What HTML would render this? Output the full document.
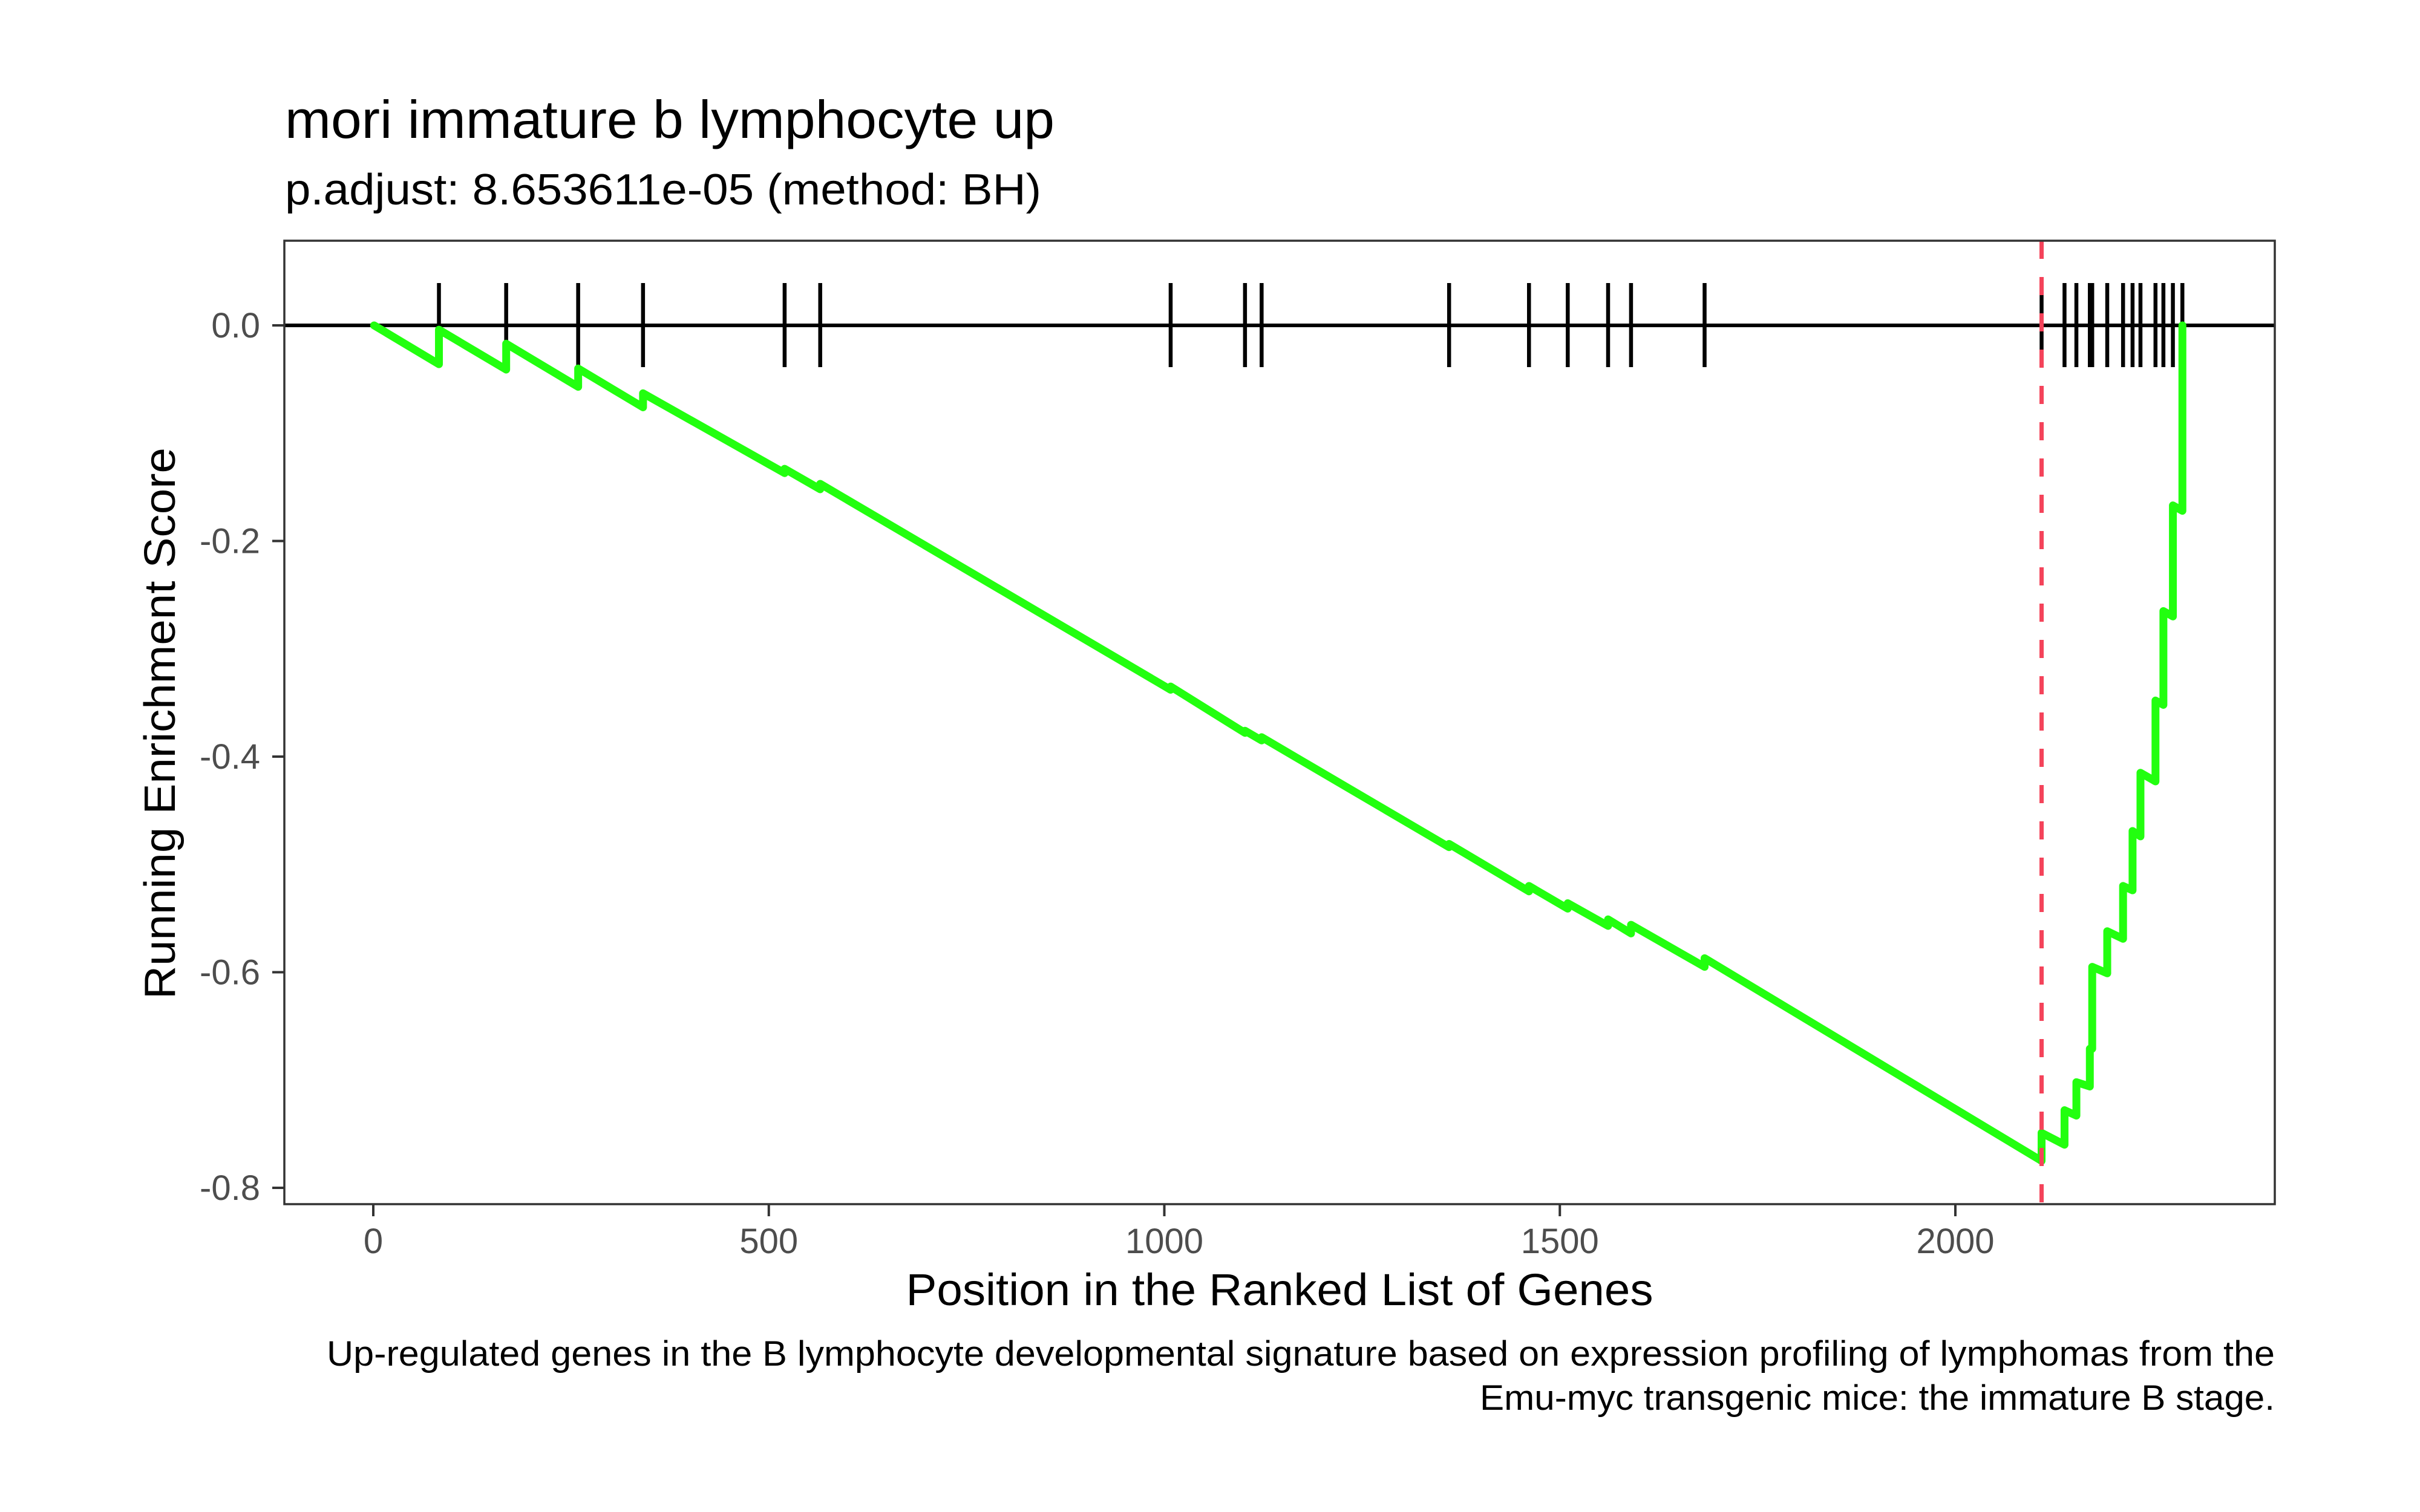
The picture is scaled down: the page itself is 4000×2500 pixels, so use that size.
<!DOCTYPE html>
<html><head><meta charset="utf-8"><style>
html,body{margin:0;padding:0;background:#fff;}
svg{display:block;font-family:"Liberation Sans",Arial,sans-serif;}
</style></head><body>
<svg id="chart" width="4000" height="2500" viewBox="0 0 4000 2500">
<rect x="0" y="0" width="4000" height="2500" fill="#fff"/>
<text x="471" y="228" font-size="88" fill="#000" textLength="1272" lengthAdjust="spacingAndGlyphs">mori immature b lymphocyte up</text>
<text x="471" y="338" font-size="72" fill="#000" textLength="1250" lengthAdjust="spacingAndGlyphs">p.adjust: 8.653611e-05 (method: BH)</text>
<g id="yaxis"></g>
<g id="xaxis"></g>
<g id="marks"></g>
<rect x="470" y="398" width="3290" height="1593" fill="none" stroke="#333" stroke-width="3.5"/>
<text x="265" y="1196" font-size="72" fill="#000" text-anchor="middle" transform="rotate(-90 265 1196)" dominant-baseline="central" textLength="912" lengthAdjust="spacingAndGlyphs">Running Enrichment Score</text>
<text x="2115" y="2158" font-size="74" fill="#000" text-anchor="middle" textLength="1235" lengthAdjust="spacingAndGlyphs">Position in the Ranked List of Genes</text>
<text x="3760" y="2258" font-size="58" fill="#000" text-anchor="end" textLength="3220" lengthAdjust="spacingAndGlyphs">Up-regulated genes in the B lymphocyte developmental signature based on expression profiling of lymphomas from the</text>
<text x="3760" y="2331" font-size="58" fill="#000" text-anchor="end" textLength="1314" lengthAdjust="spacingAndGlyphs">Emu-myc transgenic mice: the immature B stage.</text>
</svg>
<script>
const hitPositions = [83,168,259,341,520,565,1008,1102,1123,1360,1461,1510,1561,1590,1683,2109,2138,2153,2170,2173,2192,2212,2224,2234,2253,2263,2275,2287];
const esBefore = [-0.036,-0.041,-0.057,-0.076,-0.137,-0.152,-0.338,-0.378,-0.385,-0.484,-0.525,-0.541,-0.557,-0.564,-0.595,-0.775,-0.760,-0.733,-0.706,-0.671,-0.601,-0.569,-0.524,-0.474,-0.423,-0.352,-0.270,-0.172];
const esAfter  = [-0.004,-0.017,-0.040,-0.063,-0.133,-0.147,-0.335,-0.376,-0.382,-0.481,-0.520,-0.536,-0.551,-0.556,-0.587,-0.749,-0.728,-0.702,-0.671,-0.595,-0.562,-0.520,-0.469,-0.415,-0.348,-0.265,-0.167,0.0];
const startGene = [1];
const startES = [0.0];
const peakGene = [2109];
const xTicks = [0,500,1000,1500,2000];
const xTickLabels = ["0","500","1000","1500","2000"];
const yTicks = [0,-0.2,-0.4,-0.6,-0.8];
const yTickLabels = ["0.0","-0.2","-0.4","-0.6","-0.8"];

const NS="http://www.w3.org/2000/svg";
function xs(g){return 617+(g)*1.3075;}
function ys(v){return 538+(-v)*1782.5;}
function mk(tag,attrs,parent){const e=document.createElementNS(NS,tag);for(const k in attrs)e.setAttribute(k,attrs[k]);parent.appendChild(e);return e;}
const yaxis=document.getElementById('yaxis'),xaxis=document.getElementById('xaxis'),marks=document.getElementById('marks');

yTicks.forEach((v,i)=>{
  const t=mk('line',{x1:450,x2:470,y1:ys(v),y2:ys(v),stroke:'#333','stroke-width':4},yaxis);
  
  
  const l=mk('text',{x:430,y:ys(v)+20,'font-size':58,fill:'#4d4d4d','text-anchor':'end'},yaxis);
  l.textContent=yTickLabels[i];
  
  
});
xTicks.forEach((g,i)=>{
  const t=mk('line',{x1:xs(g),x2:xs(g),y1:1991,y2:2011,stroke:'#333','stroke-width':4},xaxis);
  
  
  const l=mk('text',{x:xs(g),y:2072,'font-size':58,fill:'#4d4d4d','text-anchor':'middle'},xaxis);
  l.textContent=xTickLabels[i];
  
  
});

const z=mk('line',{x1:470,x2:3760,y1:ys(0),y2:ys(0),stroke:'#000','stroke-width':6},marks);



hitPositions.forEach(g=>{
  const r=mk('line',{x1:xs(g),x2:xs(g),y1:468,y2:607,stroke:'#000','stroke-width':6.5},marks);
  
  
});

let d='M'+xs(startGene[0])+' '+ys(startES[0]);
hitPositions.forEach((g,i)=>{
  d+=' L'+xs(g)+' '+ys(esBefore[i])+' L'+xs(g)+' '+ys(esAfter[i]);
});
const p=mk('path',{d:d,fill:'none',stroke:'#22FF0F','stroke-width':13,'stroke-linejoin':'round','stroke-linecap':'round'},marks);



const pk=mk('line',{x1:xs(peakGene[0]),x2:xs(peakGene[0]),y1:398,y2:1991,stroke:'#F4435A','stroke-width':7,'stroke-dasharray':'30 30'},marks);


</script>
</body></html>
